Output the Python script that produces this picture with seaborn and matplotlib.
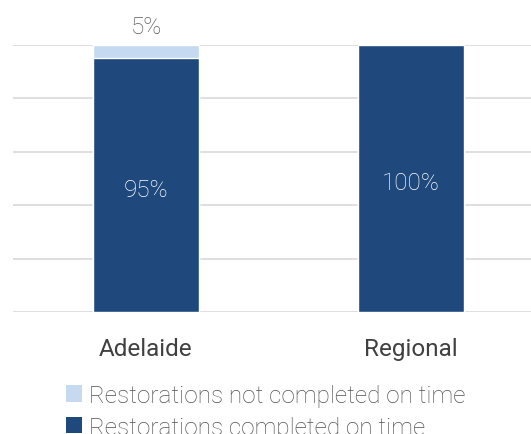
import matplotlib
matplotlib.use("Agg")
import matplotlib.pyplot as plt
from matplotlib.patches import Patch
import seaborn as sns
import pandas as pd

regions = ["Adelaide", "Regional"]
completed = [95, 100]
not_completed = [5, 0]
series_labels = ["Restorations not completed on time", "Restorations completed on time"]

dark = "#1F497D"
light = "#C5D9F1"
text_grey = "#595959"

sns.set_theme(style="white")
plt.rcParams["font.family"] = ["Roboto", "DejaVu Sans"]

df = pd.DataFrame({
    "region": regions,
    "completed": completed,
    "total": [c + n for c, n in zip(completed, not_completed)],
})

fig = plt.figure(figsize=(5.31, 4.35), dpi=100)
ax = fig.add_axes([13 / 531, 122 / 435, 1 - 13 / 531, 267 / 435])

sns.barplot(data=df, x="region", y="total", color=light, width=0.4,
            saturation=1, ax=ax, zorder=2)
sns.barplot(data=df, x="region", y="completed", color=dark, width=0.4,
            saturation=1, ax=ax, zorder=3)

ax.set_ylim(0, 100)
ax.set_xlim(-0.502, 1.453)
ax.set_yticks(range(0, 101, 20))
ax.set_yticklabels([])
ax.yaxis.grid(True, color="#D9D9D9", linewidth=1.2, zorder=0)
ax.set_axisbelow(True)
for s in ax.spines.values():
    s.set_visible(False)
ax.set_xlabel("")
ax.set_ylabel("")
ax.tick_params(axis="x", length=0, pad=18, labelsize=17.5, labelcolor="#404040")
ax.tick_params(axis="y", length=0)
for lbl in ax.get_xticklabels():
    lbl.set_fontweight("normal")

for i, (c, n) in enumerate(zip(completed, not_completed)):
    ax.text(i, c / 2 - 1.5, f"{c}%", ha="center", va="center", color="white",
            fontsize=17.5, fontweight="light", zorder=4)
    if n > 0:
        ax.text(i, c + n + 2.5, f"{n}%", ha="center", va="bottom",
                color=text_grey, fontsize=17.5, fontweight="light")

handles = [Patch(facecolor=light, edgecolor="none"),
           Patch(facecolor=dark, edgecolor="none")]
leg = fig.legend(handles, series_labels, loc="upper left",
                 bbox_to_anchor=(66 / 531, 1 - 385 / 435), frameon=False,
                 prop={"size": 17.5, "weight": "light"}, labelcolor="#505050",
                 handlelength=0.65, handleheight=0.65, handletextpad=0.3,
                 labelspacing=0.35, borderpad=0, borderaxespad=0)

fig.savefig("out.png", dpi=100)
